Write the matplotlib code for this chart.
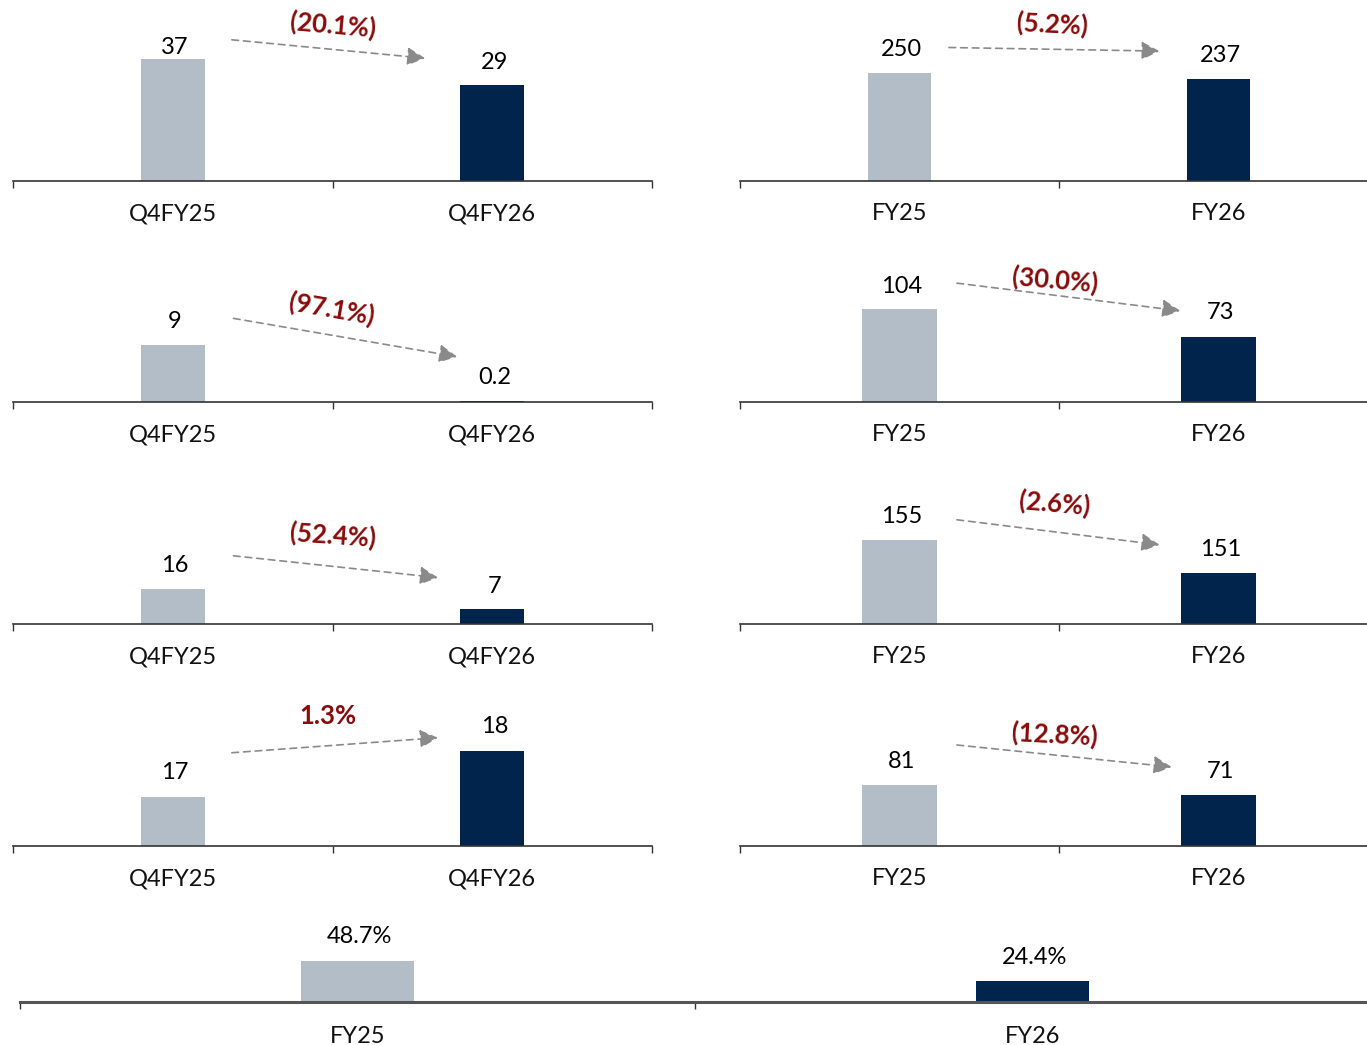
#!/usr/bin/env python3

import matplotlib
matplotlib.use("Agg")
import matplotlib.pyplot as plt

plt.rcParams['font.family'] = ['Lato', 'DejaVu Sans']

# ---- data ----
q_cats = ['Q4FY25', 'Q4FY26']
fy_cats = ['FY25', 'FY26']

q_vals = [[37, 29], [9, 0.2], [16, 7], [17, 18]]
fy_vals = [[250, 237], [104, 73], [155, 151], [81, 71]]

q_changes = ['(20.1%)', '(97.1%)', '(52.4%)', '1.3%']
fy_changes = ['(5.2%)', '(30.0%)', '(2.6%)', '(12.8%)']

margin_vals = [48.7, 24.4]

# ---- look ----
light = '#b3bdc8'
dark = '#00244b'
red = '#8b0a0a'
arrow_grey = '#8a8a8a'

W, H = 1367, 1045
DPI = 100

# y limits per panel (some of the original axes don't start at zero)
q_ylims = [(0, 54.5), (0, 28.6), (0, 81.8), (15.93, 19.84)]
fy_ylims = [(0, 418.6), (0, 201.6), (144.8, 166.6), (20, 200)]
q_width = [0.2, 0.2, 0.2, 0.2]
fy_width = [0.2, 0.238, 0.238, 0.238]

# gap (px) between bar top and value label centre
q_lab_dy = [(11, 23), (24, 23), (23, 22), (24, 24)]
fy_lab_dy = [(24, 24), (23, 24), (23, 23), (24, 24)]

# arrow placement: start/end x offset from bar centre, y offset (px) above bar top
q_arrows = [(0.185, -0.21, 19, 27), (0.19, -0.11, 27, 44), (0.19, -0.17, 33, 31), (0.185, -0.17, 44, 13)]
fy_arrows = [(0.155, -0.185, 26, 28), (0.18, -0.12, 26, 26), (0.18, -0.185, 20, 28), (0.18, -0.147, 40, 28)]
# text offset from arrow middle (px, right / up) and rotation
q_txt = [(4, 24, -5), (-14, 29, -10), (-3, 31, -4), (-7, 29, 0)]
fy_txt = [(-2, 25, -3), (-14, 17, -5), (-4, 29, -5), (-10, 21, -3)]

row_base = [181, 402, 624, 846]
row_h = 180

fig = plt.figure(figsize=(W / DPI, H / DPI), dpi=DPI)


def make_ax(x0, x1, base, h):
  ax = fig.add_axes([x0 / W, (H - base) / H, (x1 - x0) / W, h / H])
  for s in ['top', 'left', 'right']:
    ax.spines[s].set_visible(False)
  ax.spines['bottom'].set_color('#333333')
  ax.spines['bottom'].set_linewidth(1.2)
  ax.set_yticks([])
  ax.set_xlim(-0.5, 1.5)
  ax.set_xticks([-0.5, 0.5, 1.5])
  ax.set_xticklabels([])
  ax.tick_params(axis='x', which='major', length=5, width=1.0, color='#333333', direction='out')
  ax.patch.set_alpha(0)
  return ax


def set_cats(ax, cats, pad):
  ax.set_xticks([0, 1], minor=True)
  ax.set_xticklabels(cats, minor=True, fontsize=17, color='#111111')
  ax.tick_params(axis='x', which='minor', length=0, pad=pad)


def bars(ax, vals, width, dys=(25, 25), fmt='{:g}'):
  ax.bar([0, 1], vals, width=width, color=[light, dark], bottom=0)
  for i, v in enumerate(vals):
    ax.annotate(fmt.format(v), xy=(i, v), xytext=(1.5, dys[i] * 72 / DPI), textcoords='offset points',
                ha='center', va='center', fontsize=17, color='#000000')


def change_arrow(ax, vals, arr, txt, label):
  sx, ex, sdy, edy = arr
  p0 = ax.transData.transform((0 + sx, vals[0]))
  p1 = ax.transData.transform((1 + ex, vals[1]))
  p0 = (p0[0], p0[1] + sdy)
  p1 = (p1[0], p1[1] + edy)
  ax.annotate('', xy=p1, xytext=p0, xycoords='figure pixels', textcoords='figure pixels',
              arrowprops=dict(arrowstyle='-|>,head_length=0.55,head_width=0.28', mutation_scale=20,
                              color=arrow_grey, lw=1.2, linestyle=(0, (4, 3)),
                              shrinkA=0, shrinkB=0))
  mx = (p0[0] + p1[0]) / 2 + txt[0]
  my = (p0[1] + p1[1]) / 2 + txt[1]
  fig.text(mx / W, my / H, label, ha='center', va='center', rotation=txt[2],
           fontsize=18.5, fontweight='bold', color=red, rotation_mode='anchor')


for r in range(4):
  base = row_base[r]

  axl = make_ax(13, 652, base, row_h)
  axl.set_ylim(*q_ylims[r])
  bars(axl, q_vals[r], q_width[r], q_lab_dy[r])
  set_cats(axl, q_cats, 16)
  change_arrow(axl, q_vals[r], q_arrows[r], q_txt[r], q_changes[r])

  axr = make_ax(740, 1378, base, row_h)
  axr.set_ylim(*fy_ylims[r])
  bars(axr, fy_vals[r], fy_width[r], fy_lab_dy[r])
  set_cats(axr, fy_cats, 16)
  change_arrow(axr, fy_vals[r], fy_arrows[r], fy_txt[r], fy_changes[r])

# bottom full-width panel
axb = make_ax(20, 1370, 1002, 80)
axb.set_ylim(0, 95)
axb.spines['bottom'].set_linewidth(2.2)
axb.spines['bottom'].set_color('#555555')
bars(axb, margin_vals, 0.167, (24, 24), fmt='{:g}%')
set_cats(axb, fy_cats, 17)

fig.savefig('out.png', dpi=DPI)
